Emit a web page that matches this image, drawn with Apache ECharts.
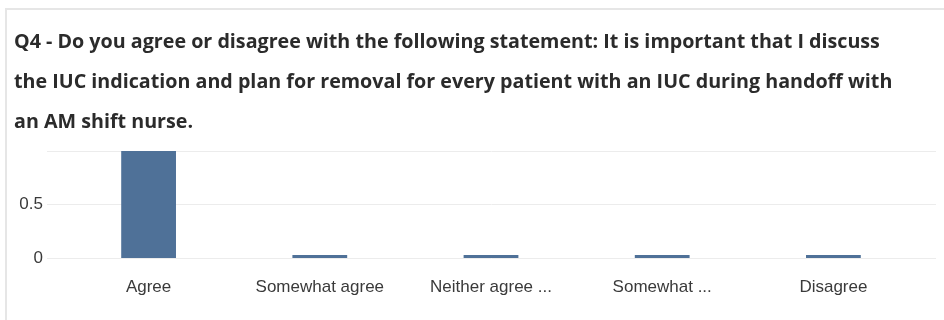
<!DOCTYPE html>
<html>
<head>
<meta charset="utf-8">
<script src="https://cdn.jsdelivr.net/npm/echarts@6/dist/echarts.min.js"></script>
<style>
html,body{margin:0;padding:0;background:#fff;}
#frame{position:absolute;left:5px;top:8px;width:950px;height:330px;border-top:2px solid #e6e6e6;border-left:2px solid #e6e6e6;box-sizing:border-box;}
#chart{position:absolute;left:0;top:0;width:944px;height:320px;}
</style>
</head>
<body>
<div id="frame"></div>
<div id="chart"></div>
<script>
const titleLines = [
  "Q4 - Do you agree or disagree with the following statement: It is important that I discuss",
  "the IUC indication and plan for removal for every patient with an IUC during handoff with",
  "an AM shift nurse."
];
const categories = ["Agree", "Somewhat agree", "Neither agree nor disagree", "Somewhat disagree", "Disagree"];
const tickLabels = ["Agree", "Somewhat agree", "Neither agree ...", "Somewhat ...", "Disagree"];
const values = [1, 0, 0, 0, 0];
const yMin = 0, yMax = 1, yInterval = 0.5;

const chart = echarts.init(document.getElementById('chart'), null, {renderer: 'canvas'});
const labelFont = {fontFamily: 'Liberation Sans', fontSize: 17, color: '#3a3a3a'};
chart.setOption({
  backgroundColor: 'transparent',
  animation: false,
  title: {
    text: titleLines.join('\n'),
    left: 14, top: 22, padding: 0,
    textStyle: {fontFamily: 'Open Sans', fontWeight: 'bold', fontSize: 19.7, lineHeight: 40.3, color: '#2b2b2b'}
  },
  grid: [
    {left: 47, right: 8, top: 151, bottom: 62},
    {left: 63, right: 25, top: 151, bottom: 62}
  ],
  xAxis: [
    {gridIndex: 0, type: 'category', data: categories, show: false},
    {gridIndex: 1, type: 'category', data: categories,
     axisLine: {show: false}, axisTick: {show: false},
     axisLabel: Object.assign({margin: 21, interval: 0, formatter: (v, i) => tickLabels[i]}, labelFont)}
  ],
  yAxis: [
    {gridIndex: 0, type: 'value', min: yMin, max: yMax, interval: yInterval,
     axisLine: {show: false}, axisTick: {show: false},
     axisLabel: Object.assign({margin: 4, showMaxLabel: false}, labelFont),
     splitLine: {lineStyle: {color: '#ececec', width: 1}}},
    {gridIndex: 1, type: 'value', min: yMin, max: yMax, interval: yInterval, show: false, splitLine: {show: false}}
  ],
  series: [{
    type: 'bar', xAxisIndex: 1, yAxisIndex: 1,
    data: values, barWidth: '32%', barMinHeight: 3,
    itemStyle: {color: '#4f7198'}
  }]
});
</script>
</body>
</html>
